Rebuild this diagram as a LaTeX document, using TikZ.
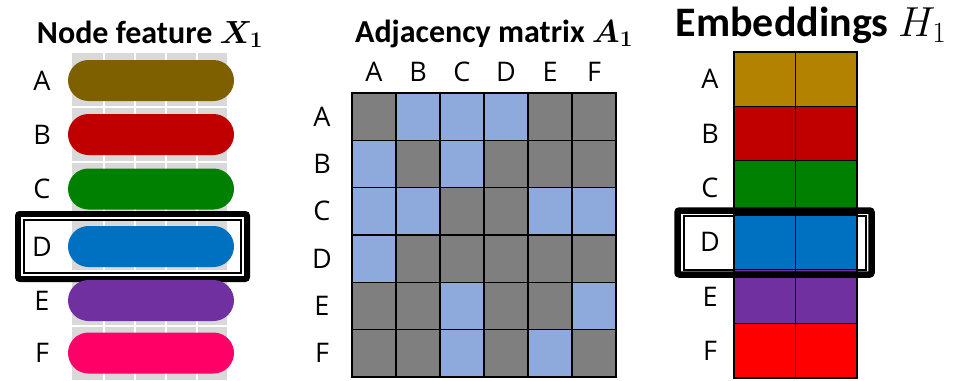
\documentclass[tikz,border=0pt]{standalone}
\usepackage{fix-cm}
\usepackage{bm}
\usepackage{fontspec}
\setmainfont{Carlito}
\newfontfamily\labfont{Open Sans}
\usetikzlibrary{shapes.misc}
\definecolor{gridgray}{HTML}{D9D9D9}
\definecolor{adjblue}{HTML}{8EA9DB}
\definecolor{adjgray}{HTML}{7F7F7F}
\definecolor{pA}{HTML}{7F6000}
\definecolor{pB}{HTML}{C00000}
\definecolor{pC}{HTML}{008000}
\definecolor{pD}{HTML}{0070C0}
\definecolor{pE}{HTML}{7030A0}
\definecolor{pF}{HTML}{FF0066}
\definecolor{eA}{HTML}{B38300}
\definecolor{eB}{HTML}{C00000}
\definecolor{eC}{HTML}{008000}
\definecolor{eD}{HTML}{0070C0}
\definecolor{eE}{HTML}{7030A0}
\definecolor{eF}{HTML}{FF0000}
\tikzset{
  pill/.style={rounded rectangle, minimum width=166pt, minimum height=41pt, inner sep=0pt},
  lab/.style={font=\labfont\fontsize{27}{27}\selectfont, inner sep=0pt},
  title/.style={font=\bfseries\fontsize{32}{32}\selectfont, anchor=base, inner sep=0pt},
  cell/.style={draw=black, line width=1.6pt, minimum width=44pt, minimum height=47.33pt, inner sep=0pt},
  ecell/.style={draw=black, line width=1.6pt, minimum width=61.5pt, minimum height=54.33pt, inner sep=0pt},
}
\begin{document}
\begin{tikzpicture}[x=1pt,y=-1pt]
\useasboundingbox (0,0) rectangle (957,380);
\fill[white] (0,0) rectangle (957,380);

% ---------- Left panel ----------
\node[title] (t1) at (150,43) {Node feature $\bm{X}_{\bm{1}}$};
\fill[gridgray] (72,53) rectangle (227,380);
\foreach \gx in {103.5,134.5,165.5,196.5}
  \draw[white, line width=2pt] (\gx,53) -- (\gx,380);
\foreach \gy in {107,162,216.5,271,326}
  \draw[white, line width=2.5pt] (72,\gy) -- (227,\gy);
% D highlight (left)
\draw[line width=6pt, rounded corners=2pt] (18,214) rectangle (247,279);
\draw[white, line width=2pt] (22,218) rectangle (243,275);
\draw[line width=2pt] (24,220) rectangle (241,273);
\foreach \L/\yy [count=\i] in {A/80.5,B/134.5,C/189,D/246.5,E/300.5,F/353} {
  \node[pill, fill=p\L] (f\L) at (151,\yy) {};
  \node[lab] (l\L) at (42,\yy) {\L};
}

% ---------- Middle panel ----------
\node[title] (t2) at (494,42) {Adjacency matrix $\bm{A}_{\bm{1}}$};
\foreach \row [count=\r] in {{0,1,1,1,0,0},{1,0,1,0,0,0},{1,1,0,0,1,1},{1,0,0,0,0,0},{0,0,1,0,0,1},{0,0,1,0,1,0}} {
  \foreach \v [count=\c] in \row {
    \ifnum\v=1 \def\cc{adjblue}\else\def\cc{adjgray}\fi
    \node[cell, fill=\cc] (m\r\c) at ({352+44*(\c-0.5)}, {93+47.33*(\r-0.5)}) {};
  }
}
\foreach \L [count=\i] in {A,B,C,D,E,F} {
  \node[lab] (c\L) at ({352+44*(\i-0.5)}, 72) {\L};
  \node[lab] (r\L) at (322, {93+47.33*(\i-0.5)}) {\L};
}

% ---------- Right panel ----------
\node[title, font=\bfseries\fontsize{42}{42}\selectfont] (t3) at (811,36) {Embeddings $H_1$};
% D highlight (right): inner lines first
\draw[white, line width=2pt] (681.5,212.5) rectangle (868,272.5);
\draw[line width=2pt] (683.5,216) rectangle (866,270);
\foreach \L [count=\i] in {A,B,C,D,E,F} {
  \node[ecell, fill=e\L] (e\L1) at (764.75, {52+54.33*(\i-0.5)}) {};
  \node[ecell, fill=e\L] (e\L2) at (826.25, {52+54.33*(\i-0.5)}) {};
  \node[lab] (h\L) at (710, {52+54.33*(\i-0.5)}) {\L};
}
\draw[line width=6.5pt, rounded corners=2pt] (677.5,210.5) rectangle (871.5,274.5);
\end{tikzpicture}
\end{document}
